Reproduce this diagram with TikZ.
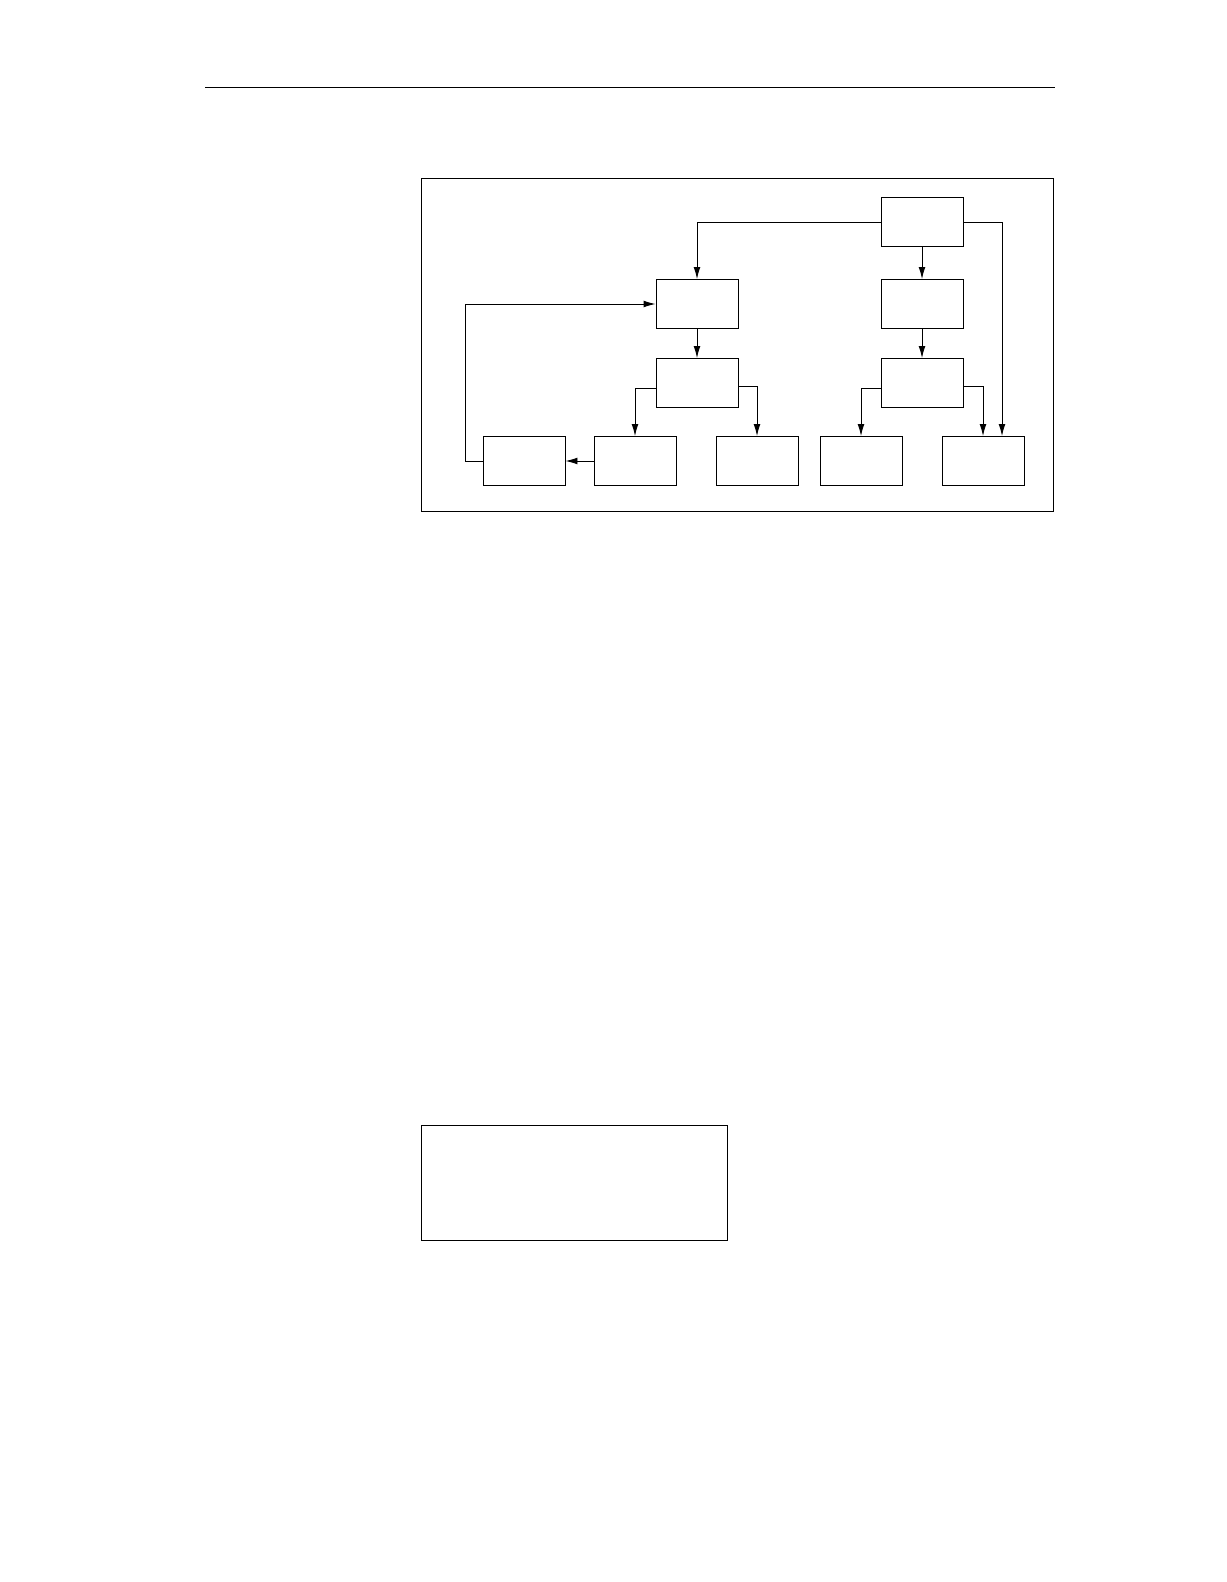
\documentclass[tikz,border=0pt]{standalone}
\usetikzlibrary{arrows.meta,positioning,calc}
\begin{document}
\begin{tikzpicture}
  [x=0.5pt,y=-0.5pt,line width=0.45pt,>={Latex[length=6pt,width=3.4pt]},
   every node/.style={rectangle,draw,minimum width=41pt,minimum height=24.5pt,inner sep=0pt}]
  \useasboundingbox (0,0) rectangle (1226,1582);
  \draw (205,87) -- (1055,87);
  \draw (421,178) rectangle (1053,511);
  \draw (421,1125) rectangle (727,1240);

  \node (top) at (922,222) {};
  \node (a1) at (697,304) {};
  \node (a2) at (697,383) {};
  \node (b1) at (922,304) {};
  \node (b2) at (922,383) {};
  \node (c1) at (524,461) {};
  \node (c2) at (635,461) {};
  \node (c3) at (757,461) {};
  \node (c4) at (861,461) {};
  \node (c5) at (983,461) {};

  \foreach \from/\to in {top/b1, b1/b2, a1/a2, c2/c1}
    \draw[->] (\from) -- (\to);
  \draw[->] (top.west) -| (a1.north);
  \draw[->] (top.east) -| ($(c5.north)+(19,0)$);
  \draw[->] (a2.188) -| (c2.north);
  \draw[->] (a2.355) -| (c3.north);
  \draw[->] (b2.188) -| (c4.north);
  \draw[->] (b2.355) -| (c5.north);
  \draw[->] (c1.west) -- ++(-17,0) |- (a1.west);
\end{tikzpicture}
\end{document}
